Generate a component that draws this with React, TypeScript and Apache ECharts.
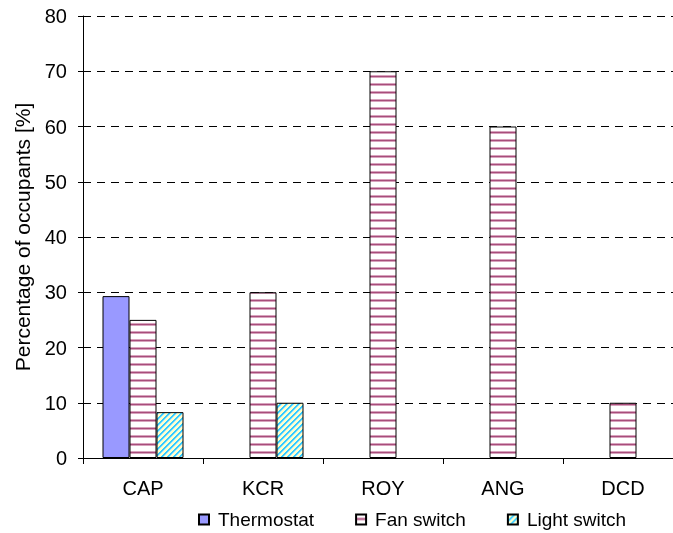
import React, { useEffect, useRef } from "react";
import * as echarts from "echarts";

const categories = ["CAP", "KCR", "ROY", "ANG", "DCD"];
const thermostat = [29.3, null, null, null, null];
const fanSwitch = [25, 30, 70, 60, 10];
const lightSwitch = [8.3, 10, null, null, null];
const yTicks = [0, 10, 20, 30, 40, 50, 60, 70, 80];

function fanPattern() {
  const c = document.createElement("canvas");
  c.width = 8;
  c.height = 8;
  const g = c.getContext("2d")!;
  g.fillStyle = "#ffffff";
  g.fillRect(0, 0, 8, 8);
  g.fillStyle = "#d7a3bd";
  g.fillRect(0, 3, 8, 1);
  g.fillRect(0, 5, 8, 1);
  g.fillStyle = "#a84d7b";
  g.fillRect(0, 4, 8, 1);
  return c;
}

function lightPattern() {
  const s = 6;
  const c = document.createElement("canvas");
  c.width = s;
  c.height = s;
  const g = c.getContext("2d")!;
  g.fillStyle = "#ffffcc";
  g.fillRect(0, 0, s, s);
  for (let i = 0; i < s; i++) {
    const y = s - 1 - i;
    g.fillStyle = "#33ccff";
    g.fillRect(i, y, 1, 1);
    g.fillRect((i + 1) % s, y, 1, 1);
    g.fillStyle = "#99e0ff";
    g.fillRect((i + 2) % s, y, 1, 1);
  }
  return c;
}

export default function App() {
  const ref = useRef<HTMLDivElement>(null);
  useEffect(() => {
    if (!ref.current) return;
    const chart = echarts.init(ref.current, null, { renderer: "svg" });
    const font = "Arial, 'Liberation Sans', sans-serif";
    const border = { borderColor: "#000", borderWidth: 1 };
    chart.setOption({
      animation: false,
      grid: { left: 83, right: 17, top: 16, bottom: 75 },
      legend: {
        left: 193,
        top: 505,
        itemWidth: 10,
        itemHeight: 10,
        itemGap: 41,
        icon: "rect",
        textStyle: { fontFamily: font, fontSize: 19, color: "#000", padding: [0, 0, 0, 4] },
        data: ["Thermostat", "Fan switch", "Light switch"],
      },
      xAxis: {
        type: "category",
        data: categories,
        axisLine: { lineStyle: { color: "#000", width: 1 } },
        axisTick: { show: true, length: 6, lineStyle: { color: "#000" } },
        axisLabel: { fontFamily: font, fontSize: 20, color: "#000", margin: 20 },
      },
      yAxis: {
        type: "value",
        min: 0,
        max: 80,
        interval: 10,
        name: "Percentage of occupants [%]",
        nameLocation: "middle",
        nameGap: 50,
        nameTextStyle: { fontFamily: font, fontSize: 21, color: "#000" },
        axisLine: { show: true, lineStyle: { color: "#000", width: 1 } },
        axisTick: { show: true, length: 5, lineStyle: { color: "#000" } },
        axisLabel: {
          fontFamily: font,
          fontSize: 20,
          color: "#000",
          margin: 16,
          formatter: (v: number) => (yTicks.includes(v) ? String(v) : ""),
        },
        splitLine: { show: true, lineStyle: { color: "#000", type: [8, 6], width: 1 } },
      },
      series: [
        {
          name: "Thermostat",
          type: "bar",
          data: thermostat,
          barGap: "0%",
          barCategoryGap: "32.5%",
          itemStyle: { color: "#9999ff", ...border },
        },
        {
          name: "Fan switch",
          type: "bar",
          data: fanSwitch,
          barGap: "0%",
          barCategoryGap: "32.5%",
          itemStyle: { color: { image: fanPattern(), repeat: "repeat" }, ...border },
        },
        {
          name: "Light switch",
          type: "bar",
          data: lightSwitch,
          barGap: "0%",
          barCategoryGap: "32.5%",
          itemStyle: { color: { image: lightPattern(), repeat: "repeat" }, ...border },
        },
      ],
    });
    return () => chart.dispose();
  }, []);
  return (
    <div
      ref={ref}
      style={{ position: "fixed", left: 0, top: 0, width: 700, height: 533, overflow: "hidden" }}
    />
  );
}
